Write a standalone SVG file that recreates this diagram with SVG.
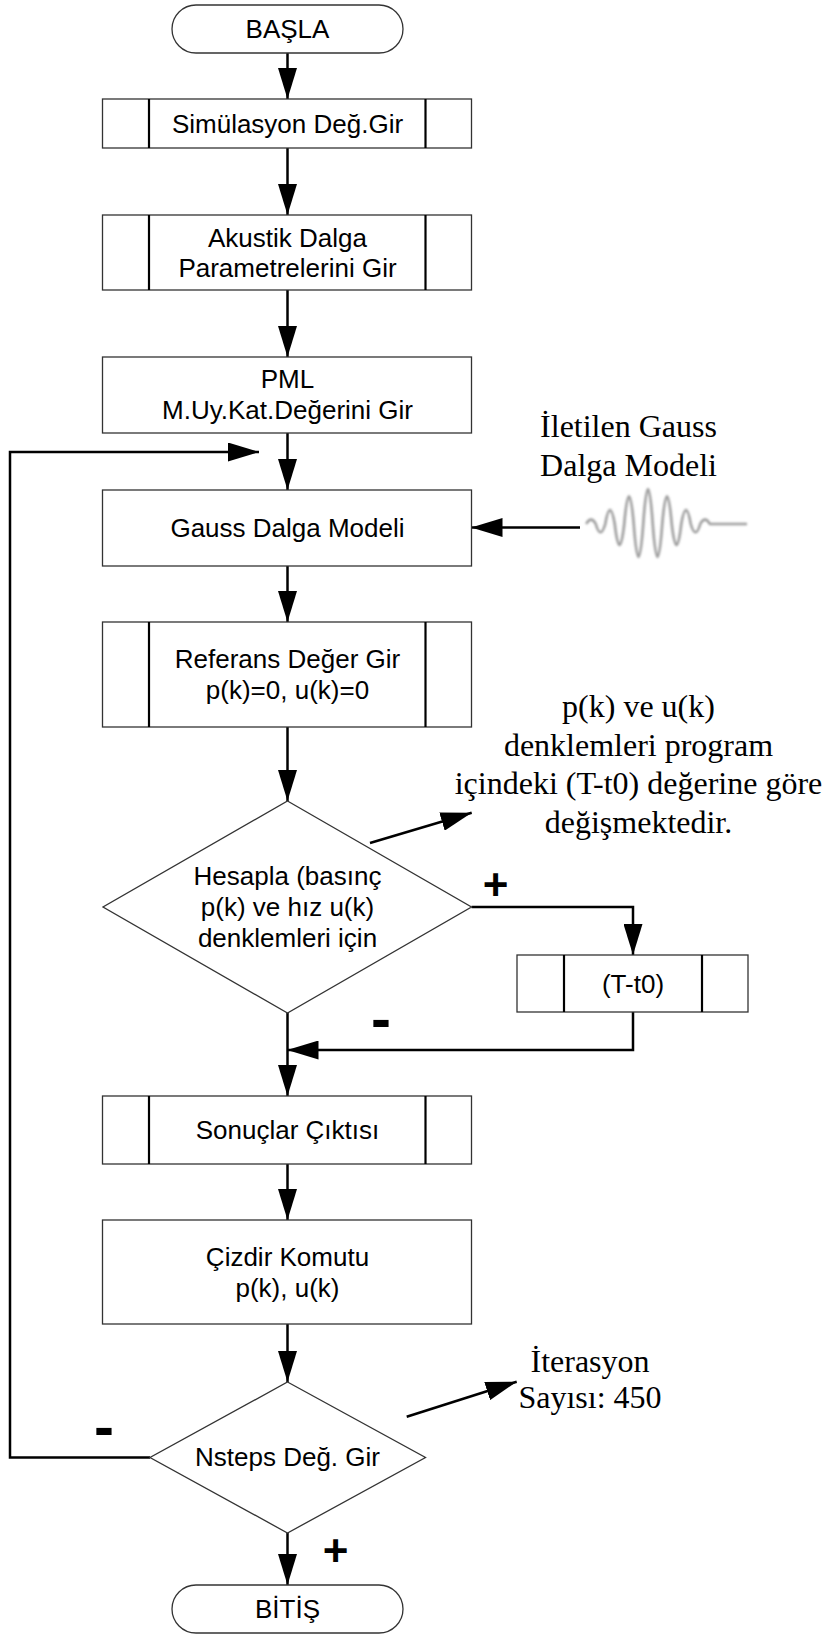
<svg xmlns="http://www.w3.org/2000/svg" width="830" height="1651" viewBox="0 0 830 1651">
<style>
.box{fill:#fff;stroke:#333;stroke-width:1.3}
.inner{stroke:#000;stroke-width:2.2;fill:none}
.lbl{font-family:"Liberation Sans",Arial,sans-serif;font-size:26px;fill:#000;text-anchor:middle}
.note{font-family:"Liberation Serif","Times New Roman",serif;font-size:32px;fill:#000;text-anchor:middle}
.sign{font-family:"Liberation Sans",Arial,sans-serif;font-weight:bold;fill:#000;text-anchor:middle}
.con{stroke:#000;stroke-width:2.5;fill:none}
</style>
<defs>
<marker id="ah" markerUnits="userSpaceOnUse" markerWidth="31" markerHeight="19" refX="31" refY="9.5" orient="auto">
<path d="M0,0 L31,9.5 L0,19 Z" fill="#000"/>
</marker>
<filter id="soft" x="-10%" y="-10%" width="120%" height="120%">
<feGaussianBlur stdDeviation="0.8"/>
</filter>
</defs>
<g id="connectors">
<line class="con" x1="287.5" y1="53" x2="287.5" y2="99" marker-end="url(#ah)"/>
<line class="con" x1="287.5" y1="148" x2="287.5" y2="215" marker-end="url(#ah)"/>
<line class="con" x1="287.5" y1="290" x2="287.5" y2="357" marker-end="url(#ah)"/>
<line class="con" x1="287.5" y1="433" x2="287.5" y2="490" marker-end="url(#ah)"/>
<line class="con" x1="287.5" y1="566" x2="287.5" y2="622" marker-end="url(#ah)"/>
<line class="con" x1="287.5" y1="727" x2="287.5" y2="801" marker-end="url(#ah)"/>
<line class="con" x1="287.5" y1="1013" x2="287.5" y2="1096" marker-end="url(#ah)"/>
<line class="con" x1="287.5" y1="1164" x2="287.5" y2="1220" marker-end="url(#ah)"/>
<line class="con" x1="287.5" y1="1324" x2="287.5" y2="1382" marker-end="url(#ah)"/>
<line class="con" x1="287.5" y1="1533" x2="287.5" y2="1585" marker-end="url(#ah)"/>
<polyline class="con" points="150,1457.5 10,1457.5 10,452 259,452" marker-end="url(#ah)"/>
<line class="con" x1="580" y1="527.5" x2="471.5" y2="527.5" marker-end="url(#ah)"/>
<polyline class="con" points="471.5,907 633,907 633,955" marker-end="url(#ah)"/>
<polyline class="con" points="633,1012 633,1050 287.5,1050" marker-end="url(#ah)"/>
<line class="con" x1="370" y1="843" x2="471.7" y2="812.7" marker-end="url(#ah)"/>
<line class="con" x1="406.7" y1="1416.7" x2="516.7" y2="1381.7" marker-end="url(#ah)"/>
</g>
<g id="basla">
<rect class="box" x="172" y="5" width="231" height="48" rx="24" ry="24"/>
<text class="lbl" x="287.5" y="38">BAŞLA</text>
</g>
<g id="simulasyon">
<rect class="box" x="102.5" y="99" width="369" height="49"/>
<line class="inner" x1="149" y1="99" x2="149" y2="148"/>
<line class="inner" x1="425.5" y1="99" x2="425.5" y2="148"/>
<text class="lbl" x="287.5" y="133">Simülasyon Değ.Gir</text>
</g>
<g id="akustik">
<rect class="box" x="102.5" y="215" width="369" height="75"/>
<line class="inner" x1="149" y1="215" x2="149" y2="290"/>
<line class="inner" x1="425.5" y1="215" x2="425.5" y2="290"/>
<text class="lbl" x="287.5" y="247">Akustik Dalga</text>
<text class="lbl" x="287.5" y="277">Parametrelerini Gir</text>
</g>
<g id="pml">
<rect class="box" x="102.5" y="357" width="369" height="76"/>
<text class="lbl" x="287.5" y="388">PML</text>
<text class="lbl" x="287.5" y="419">M.Uy.Kat.Değerini Gir</text>
</g>
<g id="gauss">
<rect class="box" x="102.5" y="490" width="369" height="76"/>
<text class="lbl" x="287.5" y="537">Gauss Dalga Modeli</text>
</g>
<g id="wave-note">
<text class="note" x="628.5" y="437">İletilen Gauss</text>
<text class="note" x="628.5" y="476">Dalga Modeli</text>
</g>
<g id="wave" filter="url(#soft)">
<path d="M586.25,524 Q591,515.2 595.75,524 Q600.5,540.6 605.25,524 Q610,496.2 614.75,524 Q619.5,565.8 624.25,524 Q629,468.4 633.75,524 Q638.5,590 643.25,524 Q648,454 652.75,524 Q657.5,590 662.25,524 Q667,468.4 671.75,524 Q676.5,565.8 681.25,524 Q686,496.2 690.75,524 Q695.5,540.6 700.25,524 Q705,515.2 709.75,524 L747,524" fill="none" stroke="#8c8c8c" stroke-width="2.6" stroke-linejoin="round" opacity="0.85"/>
</g>
<g id="referans">
<rect class="box" x="102.5" y="622" width="369" height="105"/>
<line class="inner" x1="149" y1="622" x2="149" y2="727"/>
<line class="inner" x1="425.5" y1="622" x2="425.5" y2="727"/>
<text class="lbl" x="287.5" y="668">Referans Değer Gir</text>
<text class="lbl" x="287.5" y="699">p(k)=0, u(k)=0</text>
</g>
<g id="pk-note">
<text class="note" x="638.5" y="717">p(k) ve u(k)</text>
<text class="note" x="638.5" y="755.5">denklemleri program</text>
<text class="note" x="638.5" y="794">içindeki (T-t0) değerine göre</text>
<text class="note" x="638.5" y="832.5">değişmektedir.</text>
</g>
<g id="hesapla">
<polygon class="box" points="287.5,801 471.5,907 287.5,1013 103,907"/>
<text class="lbl" x="287.5" y="885">Hesapla (basınç</text>
<text class="lbl" x="287.5" y="916">p(k) ve hız u(k)</text>
<text class="lbl" x="287.5" y="947">denklemleri için</text>
</g>
<g id="plus1"><text class="sign" x="495.5" y="900" font-size="44">+</text></g>
<g id="tt0">
<rect class="box" x="517" y="955" width="231" height="57"/>
<line class="inner" x1="564" y1="955" x2="564" y2="1012"/>
<line class="inner" x1="702" y1="955" x2="702" y2="1012"/>
<text class="lbl" x="633" y="993">(T-t0)</text>
</g>
<g id="minus1"><text class="sign" x="381" y="1039" font-size="60">-</text></g>
<g id="sonuclar">
<rect class="box" x="102.5" y="1096" width="369" height="68"/>
<line class="inner" x1="149" y1="1096" x2="149" y2="1164"/>
<line class="inner" x1="425.5" y1="1096" x2="425.5" y2="1164"/>
<text class="lbl" x="287.5" y="1139">Sonuçlar Çıktısı</text>
</g>
<g id="cizdir">
<rect class="box" x="102.5" y="1220" width="369" height="104"/>
<text class="lbl" x="287.5" y="1266">Çizdir Komutu</text>
<text class="lbl" x="287.5" y="1297">p(k), u(k)</text>
</g>
<g id="iter-note">
<text class="note" x="590" y="1372">İterasyon</text>
<text class="note" x="590" y="1408">Sayısı: 450</text>
</g>
<g id="nsteps">
<polygon class="box" points="287.5,1382 425.5,1457.5 287.5,1533 150,1457.5"/>
<text class="lbl" x="287.5" y="1466">Nsteps Değ. Gir</text>
</g>
<g id="minus2"><text class="sign" x="104" y="1447" font-size="60">-</text></g>
<g id="plus2"><text class="sign" x="335.5" y="1566" font-size="44">+</text></g>
<g id="bitis">
<rect class="box" x="172" y="1585" width="231" height="48" rx="24" ry="24"/>
<text class="lbl" x="287.5" y="1618">BİTİŞ</text>
</g>
</svg>
